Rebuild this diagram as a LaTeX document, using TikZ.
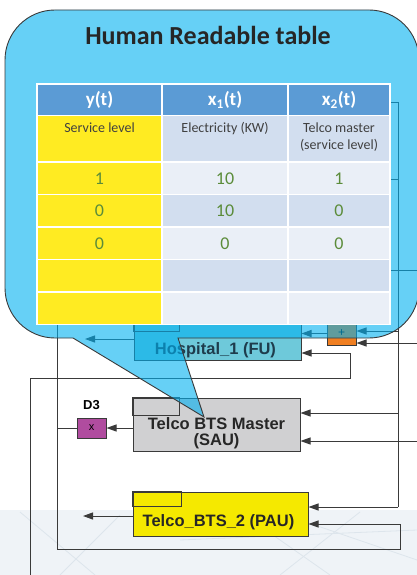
\documentclass[tikz,border=0pt]{standalone}
\usepackage{fontspec}
\setmainfont{Carlito}
\newfontfamily\arialfont{Liberation Sans}
\usetikzlibrary{arrows.meta,positioning}
\definecolor{linegray}{HTML}{3A3A3A}
\definecolor{callblue}{HTML}{00B0F0}
\definecolor{hdrblue}{HTML}{5B9BD5}
\definecolor{yel}{HTML}{FFEB22}
\definecolor{celldk}{HTML}{D2DEEF}
\definecolor{celllt}{HTML}{EAEFF7}
\definecolor{numgreen}{HTML}{5B8C3A}
\definecolor{txtgray}{HTML}{404040}
\definecolor{hospfill}{HTML}{6EC9DA}
\definecolor{hosptext}{HTML}{1E3C4C}
\definecolor{saufill}{HTML}{D0D0D2}
\definecolor{paufill}{HTML}{F5E900}
\definecolor{dfill}{HTML}{B04C9F}
\definecolor{orfill}{HTML}{F07F22}
\definecolor{bgtex}{HTML}{EFF3F7}
\definecolor{bgline}{HTML}{DDE5EC}
\begin{document}
\begin{tikzpicture}[x=1pt, y=-1pt,
  wire/.style={draw=linegray, line width=1pt},
  arr/.style={wire, -{Triangle[length=10pt,width=7pt]}},
  unit/.style={draw=linegray, line width=1pt, inner sep=0pt},
  unitlbl/.style={font=\arialfont\bfseries\fontsize{16.5}{16}\selectfont, align=center},
  hdr/.style={font=\bfseries\fontsize{19}{22}\selectfont, text=white},
  desc/.style={font=\fontsize{14}{17}\selectfont, text=txtgray, align=center, anchor=north},
  num/.style={font=\fontsize{18}{20}\selectfont, text=numgreen},
  grid/.style={draw=white, line width=1.5pt}]
\useasboundingbox (0,0) rectangle (417,575);
\fill[bgtex] (0,510) rectangle (417,575);
\foreach \xa/\ya/\xb/\yb in {20/512/95/575, 120/515/60/575, 240/512/330/575, 300/520/417/560, 360/512/280/575, 180/540/417/530}
  \draw[bgline, line width=0.8pt] (\xa,\ya) -- (\xb,\yb);

\node[unit, fill=hospfill, minimum width=167pt, minimum height=42pt] (hosp) at (217.5,339) {};
\node[unit, fill=saufill, minimum width=167pt, minimum height=53pt] (sau) at (216.5,424.5) {};
\node[unit, fill=paufill, minimum width=175pt, minimum height=44pt] (pau) at (220.5,514) {};
\node[unit, fill=dfill, minimum width=29pt, minimum height=20pt, font=\arialfont\fontsize{11}{11}\selectfont] (d3) at (91.5,428) {x};
\node[unit, fill=orfill, minimum width=29pt, minimum height=23pt, font=\arialfont\fontsize{12}{12}\selectfont] (orng) at (341.5,333.5) {+};
\draw[wire] (hosp.north west) rectangle ++(46,14);
\draw[wire] (sau.north west) rectangle ++(47,18);
\draw[wire] (pau.north west) rectangle ++(49,15);
\node[unitlbl, text=hosptext] (hosptxt) at (215.5,350) {Hospital\_1 (FU)};
\node[unitlbl, text=black!85] (sautxt) at (216.5,433) {Telco BTS Master\\(SAU)};
\node[unitlbl, text=black!85] (pautxt) at (218.5,522) {Telco\_BTS\_2 (PAU)};
\node[font=\arialfont\bfseries\fontsize{13}{13}\selectfont, above=4pt of d3] (d3txt) {D3};

\coordinate (t1) at (390,103);
\coordinate (t2) at (390,179);
\coordinate (t3) at (390,270);
\coordinate (e3) at (417,270);
\coordinate (v1) at (398,103);
\coordinate (v2) at (398,507);
\coordinate (j1) at (398,413);
\coordinate (j2) at (398,331);
\coordinate (e1) at (417,343);
\coordinate (e2) at (417,441);
\coordinate (l1) at (57,320);
\coordinate (l2) at (57,549);
\coordinate (l3) at (400,549);
\coordinate (l4) at (400,524);
\coordinate (l5) at (57,428);
\coordinate (o1) at (83,516);
\coordinate (o2) at (85,339);
\coordinate (b1) at (30,575);
\coordinate (b2) at (30,378);
\coordinate (b3) at (350,378);
\coordinate (b4) at (350,353);

\draw[wire] (t1) -- (v1) -- (v2);
\draw[wire] (t2) -- (t2 -| v1);
\draw[wire] (t3) -- (e3);
\draw[wire] (l1) -- (l2) -- (l3) -- (l4);
\draw[wire] (l5) -- (d3.west);
\draw[arr] (b1) -- (b2) -- (b3) -- (b4) -- (b4 -| hosp.east);
\path[every edge/.style=arr]
  (v2) edge (v2 -| pau.east)
  (l4) edge (l4 -| pau.east)
  (j1) edge (j1 -| sau.east)
  (e2) edge (e2 -| sau.east)
  (j2) edge (j2 -| orng.east)
  (e1) edge (e1 -| orng.east)
  (orng.west) edge (orng.west -| hosp.east)
  (hosp.west) edge (o2)
  (sau.west |- d3.east) edge (d3.east)
  (o1 -| pau.west) edge (o1);

\draw[draw=linegray, line width=0.9pt, fill=callblue, fill opacity=0.6]
  (73,338) -- (204,417) -- (178,338) -- (369,338)
  arc[start angle=270, end angle=360, radius=50pt] -- (419,60)
  arc[start angle=0, end angle=90, radius=50pt] -- (55,10)
  arc[start angle=90, end angle=180, radius=50pt] -- (5,288)
  arc[start angle=180, end angle=270, radius=50pt] -- cycle;

\fill[hdrblue] (37,84) rectangle (390,115.5);
\fill[yel] (37,115.5) rectangle (162,324.5);
\foreach \ya/\yb/\cl in {115.5/162/celldk, 162/194.5/celllt, 194.5/227/celldk, 227/259.5/celllt, 259.5/292/celldk, 292/324.5/celllt}
  \fill[\cl] (162,\ya) rectangle (390,\yb);
\foreach \yy in {115.5,162,194.5,227,259.5,292}
  \draw[grid] (37,\yy) -- (390,\yy);
\foreach \xx in {162,288}
  \draw[grid] (\xx,84) -- (\xx,324.5);
\draw[grid] (37,84) rectangle (390,324.5);

\node[font=\bfseries\fontsize{26}{30}\selectfont, text=black!85, anchor=base] (title) at (208,45) {Human Readable table};
\node[hdr] (hy) at (99.5,99.75) {y(t)};
\node[hdr] (hx1) at (225,99.75) {x\textsubscript{1}(t)};
\node[hdr] (hx2) at (339,99.75) {x\textsubscript{2}(t)};
\node[desc] (dy) at (99.5,119) {Service level};
\node[desc] (dx1) at (225,119) {Electricity (KW)};
\node[desc] (dx2) at (339,119) {Telco master\\(service level)};
\node[num] (n11) at (99.5,178.25) {1};
\node[num] (n12) at (225,178.25) {10};
\node[num] (n13) at (339,178.25) {1};
\node[num] (n21) at (99.5,210.75) {0};
\node[num] (n22) at (225,210.75) {10};
\node[num] (n23) at (339,210.75) {0};
\node[num] (n31) at (99.5,243.25) {0};
\node[num] (n32) at (225,243.25) {0};
\node[num] (n33) at (339,243.25) {0};
\end{tikzpicture}
\end{document}
